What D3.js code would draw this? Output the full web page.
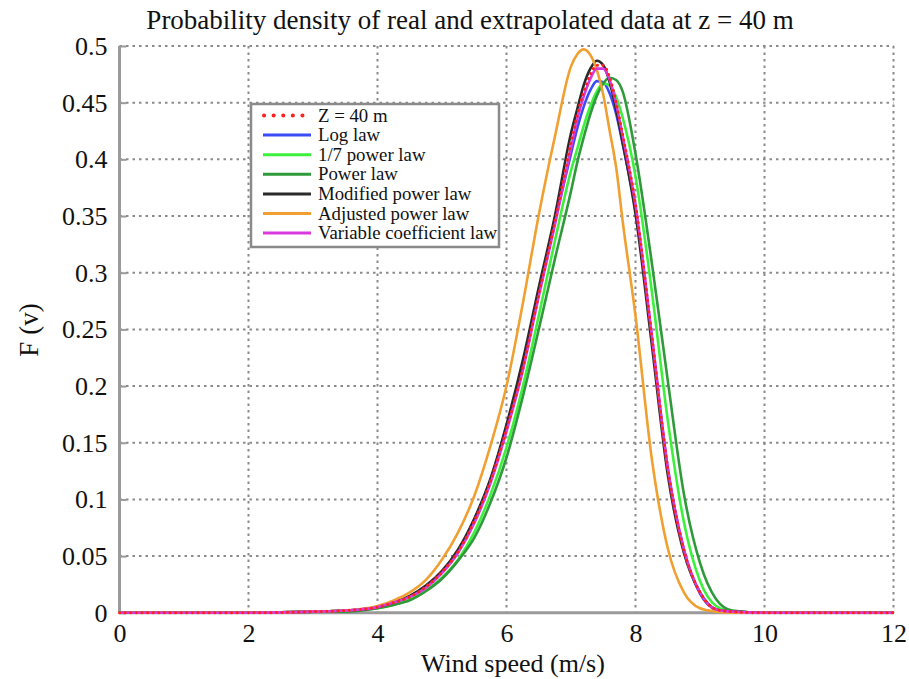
<!DOCTYPE html>
<html><head><meta charset="utf-8">
<script src="https://cdn.jsdelivr.net/npm/d3@7"></script>
<style>
body{margin:0;background:#fff;}
text{font-family:"Liberation Serif","Times New Roman",serif;fill:#111;}
</style></head>
<body><svg id="c" width="909" height="679"></svg>
<script>
const title = "Probability density of real and extrapolated data at z = 40 m";
const xLabel = "Wind speed (m/s)";
const yLabel = "F (v)";
const xTicks = [0,2,4,6,8,10,12];
const yTicks = [0,0.05,0.1,0.15,0.2,0.25,0.3,0.35,0.4,0.45,0.5];
const yTickLabels = ["0","0.05","0.1","0.15","0.2","0.25","0.3","0.35","0.4","0.45","0.5"];

const windSpeed = [0,1,2,3,3.5,4,4.25,4.5,4.75,5,5.25,5.5,5.75,6,6.25,6.5,6.75,7,7.1,7.2,7.3,7.4,7.5,7.6,7.7,7.8,8,8.25,8.5,8.75,9,9.25,9.5,10,11,12];

const z40 =        [0,0,0,0.001,0.002,0.005,0.009,0.014,0.023,0.036,0.054,0.081,0.116,0.162,0.215,0.281,0.345,0.415,0.44,0.46,0.475,0.483,0.483,0.472,0.45,0.422,0.36,0.245,0.127,0.055,0.018,0.003,0.001,0,0,0];
const logLaw =     [0,0,0,0.001,0.002,0.005,0.009,0.014,0.023,0.036,0.055,0.082,0.117,0.164,0.217,0.283,0.345,0.405,0.428,0.447,0.461,0.469,0.468,0.458,0.44,0.414,0.355,0.245,0.128,0.056,0.017,0.003,0.001,0,0,0];
const sevenLaw =   [0,0,0,0.001,0.002,0.004,0.007,0.012,0.02,0.031,0.047,0.071,0.104,0.146,0.199,0.262,0.328,0.39,0.41,0.43,0.447,0.46,0.467,0.465,0.455,0.437,0.385,0.285,0.17,0.08,0.028,0.006,0.001,0,0,0];
const powerLaw =   [0,0,0,0.001,0.001,0.004,0.007,0.011,0.019,0.03,0.046,0.066,0.097,0.137,0.19,0.25,0.312,0.372,0.398,0.42,0.44,0.456,0.467,0.472,0.47,0.46,0.405,0.31,0.205,0.105,0.044,0.012,0.002,0,0,0];
const modifiedLaw =[0,0,0,0.001,0.002,0.005,0.009,0.015,0.024,0.037,0.056,0.083,0.118,0.166,0.222,0.287,0.35,0.423,0.445,0.466,0.48,0.487,0.483,0.468,0.444,0.415,0.352,0.238,0.122,0.053,0.018,0.003,0.001,0,0,0];
const adjustedLaw =[0,0,0,0.001,0.002,0.006,0.011,0.018,0.029,0.047,0.071,0.103,0.147,0.2,0.272,0.351,0.42,0.482,0.493,0.497,0.492,0.479,0.457,0.425,0.393,0.346,0.262,0.137,0.057,0.018,0.004,0.001,0,0,0,0];
const variableLaw =[0,0,0,0.001,0.002,0.005,0.009,0.014,0.022,0.035,0.053,0.079,0.114,0.16,0.213,0.279,0.342,0.41,0.436,0.456,0.471,0.48,0.48,0.47,0.449,0.421,0.36,0.246,0.128,0.056,0.018,0.003,0.001,0,0,0];

const seriesNames = ["Z = 40 m","Log law","1/7 power law","Power law","Modified power law","Adjusted power law","Variable coefficient law"];
const seriesColors = ["#ff2020","#3a4cf5","#3cf03c","#2f9a3a","#2a2a2a","#f0a030","#d83ae0"];
const seriesValues = [z40,logLaw,sevenLaw,powerLaw,modifiedLaw,adjustedLaw,variableLaw];

const svg = d3.select("#c");
const m = {l:119.5, r:893.5, t:46, b:612.8};
const x = d3.scaleLinear().domain([0,12]).range([m.l,m.r]);
const y = d3.scaleLinear().domain([0,0.5]).range([m.b,m.t]);

// grid
const grid = svg.append("g").attr("stroke","#8a8a8a").attr("stroke-width",2).attr("stroke-dasharray","2.5,4");
grid.selectAll(".gx").data(xTicks.filter(d=>d>0)).join("line")
  .attr("x1",d=>x(d)).attr("x2",d=>x(d)).attr("y1",m.t).attr("y2",m.b);
grid.selectAll(".gy").data(yTicks.filter(d=>d>0)).join("line")
  .attr("y1",d=>y(d)).attr("y2",d=>y(d)).attr("x1",m.l).attr("x2",m.r);

// axes
const xAxis = d3.axisBottom(x).tickValues(xTicks).tickSize(0).tickPadding(11).tickFormat(d3.format("d"));
const yAxis = d3.axisLeft(y).tickValues(yTicks).tickSize(-7).tickPadding(12).tickFormat((d,i)=>yTickLabels[i]);
const gx = svg.append("g").attr("transform",`translate(0,${m.b})`).call(xAxis);
const gy = svg.append("g").attr("transform",`translate(${m.l},0)`).call(yAxis);
[gx,gy].forEach(g=>{
  g.attr("font-family",null);
  g.select(".domain").attr("stroke","#9a9a9a").attr("stroke-width",3);
  g.selectAll(".tick line").attr("stroke","#9a9a9a").attr("stroke-width",2);
  g.selectAll("text").style("font-family","'Liberation Serif', serif").attr("font-size",26).attr("fill","#111");
});
gy.select(".domain").attr("d",`M0,${m.t}V${m.b}`);
gx.select(".domain").attr("d",`M${m.l},0H${m.r}`);

// curves
const line = d3.line().x((d,i)=>x(windSpeed[i])).y(d=>y(d)).curve(d3.curveMonotoneX);
const order = [1,2,3,4,5,6];
order.forEach(i=>{
  svg.append("path").datum(seriesValues[i]).attr("d",line).attr("fill","none")
    .attr("stroke",seriesColors[i]).attr("stroke-width",2.6).attr("stroke-linejoin","round");
});
svg.append("path").datum(seriesValues[0]).attr("d",line).attr("fill","none")
  .attr("stroke",seriesColors[0]).attr("stroke-width",3).attr("stroke-linecap","round")
  .attr("stroke-dasharray","0.1,5.5");

// title & labels
svg.append("text").attr("x",470).attr("y",29).attr("text-anchor","middle").attr("font-size",27).text(title);
svg.append("text").attr("x",513).attr("y",672).attr("text-anchor","middle").attr("font-size",26).text(xLabel);
svg.append("text").attr("transform","translate(38,330) rotate(-90)").attr("text-anchor","middle").attr("font-size",27).text(yLabel);

// legend
const lg = svg.append("g");
lg.append("rect").attr("x",251).attr("y",104).attr("width",248).attr("height",143)
  .attr("fill","#fff").attr("stroke","#8a8a8a").attr("stroke-width",2.5);
seriesNames.forEach((n,i)=>{
  const yy = 115.5 + i*19.6;
  const l = lg.append("line").attr("x1",263).attr("x2",311).attr("y1",yy).attr("y2",yy)
    .attr("stroke",seriesColors[i]).attr("stroke-width",i===0?4:3);
  if(i===0) l.attr("stroke-dasharray","0.1,9.5").attr("stroke-linecap","round").attr("x1",264);
  lg.append("text").attr("x",318).attr("y",yy+6).attr("font-size",18.8).text(n);
});
</script></body></html>
